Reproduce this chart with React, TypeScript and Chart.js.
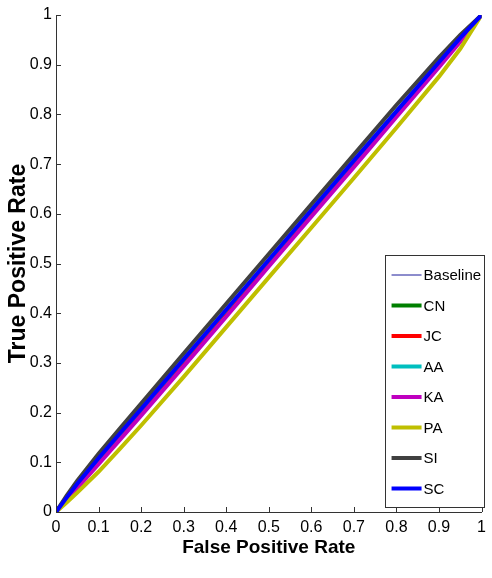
import React, { useEffect, useRef } from "react";
import { Chart, registerables } from "chart.js";

Chart.register(...registerables);

const fpr = [0, 0.025, 0.05, 0.1, 0.15, 0.2, 0.3, 0.4, 0.5, 0.6, 0.7, 0.8, 0.9, 0.95, 1];
const baseline = [0, 0.025, 0.05, 0.1, 0.15, 0.2, 0.3, 0.4, 0.5, 0.6, 0.7, 0.8, 0.9, 0.95, 1];
const cn = [0, 0.029, 0.057, 0.108, 0.157, 0.206, 0.305, 0.405, 0.505, 0.605, 0.705, 0.804, 0.903, 0.952, 1];
const jc = [0, 0.028, 0.056, 0.107, 0.156, 0.205, 0.304, 0.404, 0.504, 0.604, 0.704, 0.803, 0.902, 0.951, 1];
const aa = [0, 0.029, 0.057, 0.108, 0.158, 0.207, 0.307, 0.407, 0.507, 0.607, 0.707, 0.806, 0.905, 0.953, 1];
const ka = [0, 0.024, 0.048, 0.096, 0.145, 0.194, 0.293, 0.393, 0.494, 0.594, 0.694, 0.795, 0.895, 0.946, 1];
const pa = [0, 0.019, 0.039, 0.081, 0.127, 0.174, 0.272, 0.372, 0.472, 0.572, 0.672, 0.773, 0.876, 0.932, 1];
const si = [0, 0.033, 0.063, 0.117, 0.168, 0.218, 0.319, 0.419, 0.519, 0.619, 0.719, 0.819, 0.915, 0.96, 1];
const sc = [0, 0.029, 0.057, 0.108, 0.158, 0.207, 0.307, 0.407, 0.507, 0.607, 0.707, 0.806, 0.905, 0.954, 1];

const seriesNames = ["Baseline", "CN", "JC", "AA", "KA", "PA", "SI", "SC"];
const seriesValues = [baseline, cn, jc, aa, ka, pa, si, sc];
const seriesColors = ["#1a1a9a", "#007f00", "#ff0000", "#00bfbf", "#bf00bf", "#bfbf00", "#404040", "#0000ff"];
const seriesWidths = [1, 4, 4, 4, 4, 4, 4, 4];

const tickLabels = ["0", "0.1", "0.2", "0.3", "0.4", "0.5", "0.6", "0.7", "0.8", "0.9", "1"];

const FONT = "'Liberation Sans Narrow', 'Arial Narrow', Arial, 'Liberation Sans', sans-serif";
const BOLD = "Arial, 'Liberation Sans', sans-serif";

const inwardTicks = {
  id: "inwardTicks",
  afterDraw(chart: any) {
    const ctx = chart.ctx;
    const area = chart.chartArea;
    const xs = chart.scales.x;
    const ys = chart.scales.y;
    ctx.save();
    ctx.strokeStyle = "#333";
    ctx.lineWidth = 1;
    xs.ticks.forEach((t: any) => {
      const px = Math.round(xs.getPixelForValue(t.value)) + 0.5;
      ctx.beginPath();
      ctx.moveTo(px, area.bottom);
      ctx.lineTo(px, area.bottom - 5);
      ctx.stroke();
    });
    ys.ticks.forEach((t: any) => {
      const py = Math.round(ys.getPixelForValue(t.value)) + 0.5;
      ctx.beginPath();
      ctx.moveTo(area.left, py);
      ctx.lineTo(area.left + 5, py);
      ctx.stroke();
    });
    ctx.restore();
  },
};

const boxLegend = {
  id: "boxLegend",
  afterDraw(chart: any) {
    const ctx = chart.ctx;
    const area = chart.chartArea;
    const w = 99;
    const h = 252;
    const right = area.right + 2;
    const bottom = area.bottom - 5;
    const left = right - w;
    const top = bottom - h;
    ctx.save();
    ctx.fillStyle = "#ffffff";
    ctx.fillRect(left, top, w, h);
    ctx.strokeStyle = "#333";
    ctx.lineWidth = 1;
    ctx.strokeRect(Math.round(left) + 0.5, Math.round(top) + 0.5, w, h);
    ctx.font = "15px " + FONT;
    ctx.textBaseline = "middle";
    ctx.textAlign = "left";
    chart.data.datasets.forEach((ds: any, i: number) => {
      const y = top + 20 + i * 30.5;
      ctx.strokeStyle = ds.borderColor;
      ctx.lineWidth = ds.borderWidth;
      ctx.beginPath();
      ctx.moveTo(left + 7, y);
      ctx.lineTo(left + 37, y);
      ctx.stroke();
      ctx.fillStyle = "#000";
      ctx.fillText(ds.label, left + 39, y + 1);
    });
    ctx.restore();
  },
};

export default function App() {
  const ref = useRef<HTMLCanvasElement>(null);
  useEffect(() => {
    document.body.style.margin = "0";
    const n = seriesNames.length;
    const chart = new Chart(ref.current as HTMLCanvasElement, {
      type: "line",
      data: {
        datasets: seriesNames.map((name, i) => ({
          label: name,
          data: fpr.map((x, j) => ({ x, y: seriesValues[i][j] })),
          borderColor: seriesColors[i],
          backgroundColor: seriesColors[i],
          borderWidth: seriesWidths[i],
          pointRadius: 0,
          fill: false,
          tension: 0,
          order: n - i,
        })),
      },
      options: {
        responsive: false,
        animation: false,
        layout: { padding: { top: 15, right: 7, left: 0, bottom: 0 } },
        plugins: { legend: { display: false }, tooltip: { enabled: false } },
        scales: {
          x: {
            type: "linear",
            min: 0,
            max: 1,
            grid: { display: true, drawOnChartArea: false, drawTicks: false },
            border: { display: true, color: "#333", width: 1 },
            ticks: {
              stepSize: 0.1,
              padding: 6,
              color: "#000",
              font: { family: FONT, size: 16 },
              maxRotation: 0,
              autoSkip: false,
              callback: (v: any, idx: number) => tickLabels[idx],
            },
            title: {
              display: true,
              text: "False Positive Rate",
              color: "#000",
              font: { family: BOLD, size: 19, weight: "bold" },
              padding: { top: 0, bottom: 19 },
            },
            afterFit: (s: any) => {
              s.height = 66;
            },
          },
          y: {
            type: "linear",
            min: 0,
            max: 1,
            grid: { display: true, drawOnChartArea: false, drawTicks: false },
            border: { display: true, color: "#333", width: 1 },
            ticks: {
              stepSize: 0.1,
              padding: 4,
              color: "#000",
              font: { family: FONT, size: 16 },
              autoSkip: false,
              callback: (v: any, idx: number) => tickLabels[idx],
            },
            title: {
              display: true,
              text: "True Positive Rate",
              color: "#000",
              font: { family: BOLD, size: 23, weight: "bold" },
              padding: { top: 5, bottom: 0 },
            },
            afterFit: (s: any) => {
              s.width = 56;
            },
          },
        },
      },
      plugins: [inwardTicks, boxLegend],
    });
    return () => chart.destroy();
  }, []);
  return (
    <div style={{ width: 492, height: 578, background: "#fff" }}>
      <canvas ref={ref} width={492} height={578} />
    </div>
  );
}
